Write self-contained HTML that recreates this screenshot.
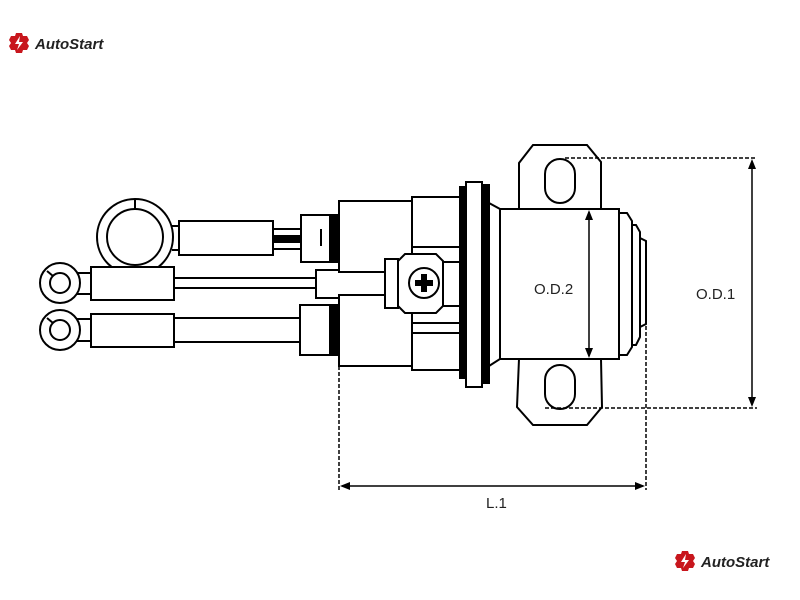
<!DOCTYPE html>
<html><head><style>
html,body{margin:0;padding:0;background:#fff;}
svg{display:block;}
</style></head><body>
<svg width="800" height="600" viewBox="0 0 800 600" xmlns="http://www.w3.org/2000/svg" font-family="Liberation Sans, sans-serif">
<rect width="800" height="600" fill="#fff"/>
<!-- logos -->
<g transform="translate(9,33)">
  <path d="M7 0 L13 0 L14 3 L18 3 L20 7 L18 10 L20 13 L18 17 L14 17 L13 20 L7 20 L6 17 L2 17 L0 13 L2 10 L0 7 L2 3 L6 3 Z" fill="#c8161d"/>
  <path d="M11 3 L6 11 L10 11 L8 17 L14 9 L10 9 Z" fill="#fff"/>
  <text x="26" y="16" font-size="15" font-style="italic" font-weight="bold" fill="#222">AutoStart</text>
</g>
<g transform="translate(675,551)">
  <path d="M7 0 L13 0 L14 3 L18 3 L20 7 L18 10 L20 13 L18 17 L14 17 L13 20 L7 20 L6 17 L2 17 L0 13 L2 10 L0 7 L2 3 L6 3 Z" fill="#c8161d"/>
  <path d="M11 3 L6 11 L10 11 L8 17 L14 9 L10 9 Z" fill="#fff"/>
  <text x="26" y="16" font-size="15" font-style="italic" font-weight="bold" fill="#222">AutoStart</text>
</g>

<g fill="#fff" stroke="#000" stroke-width="2">
  <!-- big ring -->
  <circle cx="135" cy="237" r="38"/>
  <circle cx="135" cy="237" r="28"/>
  <line x1="135" y1="199" x2="135" y2="209"/>
  <line x1="172" y1="226" x2="179" y2="226" /><line x1="172" y1="250" x2="179" y2="250"/>
  <rect x="179" y="221" width="94" height="34"/>
  <line x1="273" y1="229" x2="301" y2="229"/><line x1="273" y1="249" x2="301" y2="249"/>
  <rect x="273" y="235" width="28" height="8" fill="#000" stroke="none"/>
  <rect x="301" y="215" width="38" height="47"/>
  <rect x="329" y="216" width="10" height="45" fill="#000" stroke="none"/>
  <line x1="321" y1="229" x2="321" y2="246"/>

  <!-- middle terminal -->
  <circle cx="60" cy="283" r="20"/>
  <circle cx="60" cy="283" r="10"/>
  <line x1="47" y1="271" x2="53" y2="276"/>
  <line x1="77" y1="273" x2="91" y2="273"/><line x1="77" y1="294" x2="91" y2="294"/>
  <rect x="91" y="267" width="83" height="33"/>
  <line x1="174" y1="278" x2="316" y2="278"/><line x1="174" y1="288" x2="316" y2="288"/>
  <rect x="316" y="270" width="70" height="28"/>

  <!-- bottom terminal -->
  <circle cx="60" cy="330" r="20"/>
  <circle cx="60" cy="330" r="10"/>
  <line x1="47" y1="318" x2="53" y2="323"/>
  <line x1="77" y1="319" x2="91" y2="319"/><line x1="77" y1="341" x2="91" y2="341"/>
  <rect x="91" y="314" width="83" height="33"/>
  <line x1="174" y1="318" x2="300" y2="318"/><line x1="174" y1="342" x2="300" y2="342"/>
  <rect x="300" y="305" width="39" height="50"/>
  <rect x="329" y="306" width="10" height="48" fill="#000" stroke="none"/>

  <!-- blocks -->
  <rect x="339" y="201" width="73" height="71"/>
  <rect x="339" y="295" width="73" height="71"/>
  <rect x="412" y="197" width="48" height="173"/>
  <line x1="412" y1="247" x2="460" y2="247"/>
  <line x1="412" y1="323" x2="460" y2="323"/>
  <line x1="442" y1="262" x2="460" y2="262"/>
  <line x1="442" y1="306" x2="460" y2="306"/>
  <line x1="412" y1="333" x2="460" y2="333"/>

  <!-- screw terminal -->
  <rect x="385" y="259" width="13" height="49"/>
  <path d="M405 254 L436 254 L443 261 L443 306 L436 313 L405 313 L398 306 L398 261 Z"/>
  <circle cx="424" cy="283" r="15"/>
  <path d="M421 274 h6 v6 h6 v6 h-6 v6 h-6 v-6 h-6 v-6 h6 Z" fill="#000" stroke="none"/>

  <!-- flange -->
  <rect x="460" y="187" width="6" height="191" fill="#000"/>
  <rect x="466" y="182" width="16" height="205"/>
  <rect x="482" y="185" width="7" height="198" fill="#000"/>
  <path d="M489 203 L500 209 L500 359 L489 366 Z"/>

  <!-- brackets -->
  <path d="M519 209 L519 163 L533 145 L587 145 L601 162 L601 209"/>
  <path d="M519 359 L517 407 L533 425 L587 425 L602 407 L601 359"/>
  <rect x="545" y="159" width="30" height="44" rx="15"/>
  <rect x="545" y="365" width="30" height="44" rx="15"/>

  <!-- body -->
  <rect x="500" y="209" width="119" height="150"/>
  <path d="M619 213 L627 213 L632 221 L632 347 L627 355 L619 355 Z"/>
  <path d="M632 225 L636 225 L640 232 L640 337 L636 345 L632 345 Z"/>
  <path d="M640 238 L646 241 L646 324 L640 327 Z"/>
</g>

<!-- dimensions -->
<g stroke="#000" stroke-width="1.5" fill="none">
  <line x1="565" y1="158" x2="757" y2="158" stroke-dasharray="4,2"/>
  <line x1="545" y1="408" x2="757" y2="408" stroke-dasharray="4,2"/>
  <line x1="339" y1="366" x2="339" y2="490" stroke-dasharray="4,2"/>
  <line x1="646" y1="326" x2="646" y2="490" stroke-dasharray="4,2"/>
  <line x1="589" y1="212" x2="589" y2="356"/>
  <line x1="752" y1="162" x2="752" y2="404"/>
  <line x1="342" y1="486" x2="643" y2="486"/>
</g>
<g fill="#000">
  <path d="M589 210 L585 220 L593 220 Z"/><path d="M589 358 L585 348 L593 348 Z"/>
  <path d="M752 159 L748 169 L756 169 Z"/><path d="M752 407 L748 397 L756 397 Z"/>
  <path d="M340 486 L350 482 L350 490 Z"/><path d="M645 486 L635 482 L635 490 Z"/>
</g>
<g font-size="15" fill="#222">
  <text x="534" y="294">O.D.2</text>
  <text x="696" y="299">O.D.1</text>
  <text x="486" y="508">L.1</text>
</g>
</svg>
</body></html>
